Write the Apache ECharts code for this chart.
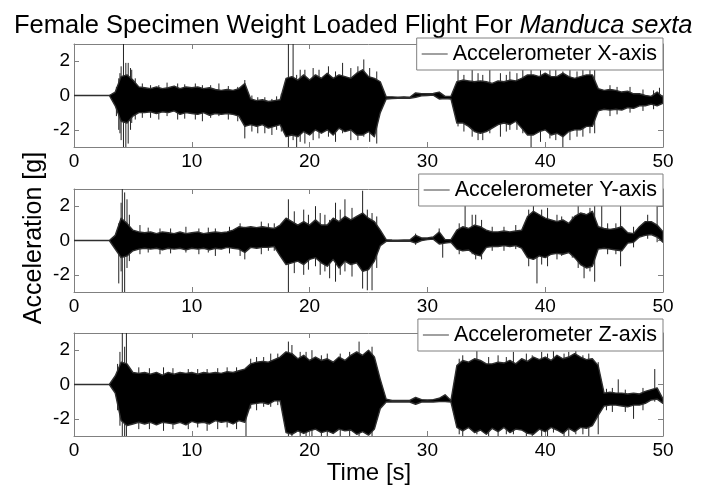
<!DOCTYPE html>
<html>
<head>
<meta charset="utf-8">
<script src="https://cdn.jsdelivr.net/npm/echarts@6/dist/echarts.min.js"></script>
<style>
html,body{margin:0;padding:0;background:#fff;}
#chart{width:710px;height:489px;}
</style>
</head>
<body>
<div id="chart"></div>
<script>
// Envelope sample step (seconds): values at t = 0, 0.5, 1.0, ... 50
const sampleStep = 0.5;
const xTicks = [0, 10, 20, 30, 40, 50];
const yTicks = [-2, 0, 2];
const seriesNames = ['Accelerometer X-axis', 'Accelerometer Y-axis', 'Accelerometer Z-axis'];

// ---- Accelerometer X-axis [g]: upper / lower envelope of the dense trace core (10 values per row = 5 s)
const xUpper = [
  0,0,0,0,0,0,0,0.2,1.1,1.2,
  0.9,0.5,0.45,0.4,0.5,0.4,0.45,0.55,0.4,0.5,
  0.45,0.5,0.4,0.45,0.35,0.3,0.35,0.3,0.4,0.7,
  -0.2,-0.3,-0.25,-0.35,-0.3,-0.25,1.0,1.1,0.9,1.2,
  0.9,1.2,1.0,1.3,1.0,1.2,1.1,1.0,1.3,1.5,
  1.1,1.0,0.8,-0.08,-0.08,-0.1,-0.08,-0.1,0.15,0.1,
  0.1,0.12,0.2,-0.05,-0.05,0.8,0.9,0.85,0.8,0.85,
  0.8,0.7,0.85,0.8,0.9,0.85,1.0,1.2,1.2,1.1,
  1.3,1.1,1.1,1.3,1.1,1.0,1.1,1.2,1.2,0.4,
  0.3,0.35,0.3,0.2,0.25,0.1,0.1,0.0,-0.05,0.2,
  -0.1
];
const xLower = [
  0,0,0,0,0,0,0,-0.6,-1.5,-1.6,
  -1.2,-1.0,-1.0,-0.95,-1.05,-0.95,-1.0,-0.9,-1.1,-1.0,
  -1.05,-1.1,-1.0,-1.15,-1.05,-1.1,-1.05,-1.1,-1.2,-1.8,
  -1.7,-1.8,-1.7,-1.9,-1.8,-1.7,-2.4,-2.3,-2.4,-2.1,
  -2.3,-2.0,-2.2,-2.0,-2.3,-1.9,-2.1,-2.0,-2.3,-2.3,
  -2.1,-2.4,-1.0,-0.2,-0.18,-0.16,-0.17,-0.16,-0.1,-0.02,
  0.0,0.02,-0.2,-0.18,-0.2,-1.6,-1.6,-1.8,-2.1,-2.2,
  -2.1,-1.9,-1.7,-1.6,-1.7,-1.5,-1.9,-2.3,-2.3,-2.1,
  -2.0,-2.3,-2.2,-2.4,-2.1,-2.0,-2.0,-1.8,-1.8,-0.9,
  -0.8,-0.85,-0.8,-0.85,-0.7,-0.75,-0.6,-0.6,-0.5,-0.6,
  -0.45
];
// spikes / whiskers of the X trace reaching past the core: [time s, low g, high g]
const xSpikes = [
  [3.6,-1.2,0.5],[3.8,-2.0,1.0],[3.9,-2.2,1.3],[4.0,-2.6,1.7],[4.2,-3.2,3.2],[4.4,-3.2,1.9],
  [4.6,-2.8,1.9],[4.8,-2.0,1.6],[4.9,-1.6,1.5],[5.2,-1.4,1.0],[5.8,-1.3,0.7],[6.5,-1.3,0.6],
  [7.2,-1.4,0.6],[7.9,-1.2,0.75],[8.8,-1.4,0.7],[9.4,-1.35,0.65],[10.3,-1.4,0.7],[10.9,-1.5,0.6],
  [11.6,-1.3,0.6],[12.3,-1.2,0.7],[13.1,-1.4,0.55],[13.9,-1.5,0.5],[14.5,-2.5,0.9],[15.1,-2.1,0.0],
  [15.6,-2.2,-0.1],[16.2,-2.2,-0.1],[16.8,-2.3,-0.2],[17.2,-2.0,-0.05],[17.6,-2.1,0.1],
  [18.2,-3.2,3.2],[18.6,-2.6,3.2],[18.9,-3.2,1.2],[19.2,-2.7,1.5],[19.6,-2.8,1.5],[20.3,-2.6,1.6],
  [20.8,-2.5,1.5],[21.6,-2.4,1.7],[22.2,-2.7,1.4],[22.8,-2.2,1.9],[23.5,-2.6,1.6],[24.1,-2.6,1.7],
  [24.6,-2.4,2.1],[25.1,-2.7,1.6],[25.7,-2.8,1.4],
  [32.6,-1.8,1.5],[33.1,-2.1,1.2],[33.8,-2.4,1.6],[34.3,-2.6,1.3],[34.7,-2.6,1.2],[35.3,-2.2,1.5],
  [36.2,-2.4,1.3],[36.7,-2.1,1.2],[37.0,-2.0,1.4],[37.6,-2.0,1.3],[38.1,-2.2,1.6],[38.8,-3.2,1.7],
  [39.6,-2.7,1.5],[40.4,-2.5,1.6],[40.9,-2.6,1.5],[41.5,-3.2,1.4],[42.1,-2.6,1.7],[42.7,-2.4,1.4],
  [43.2,-2.4,1.6],[43.8,-2.2,1.7],[44.2,-2.2,1.6],[45.5,-1.2,0.6],[46.1,-1.1,0.5],[47.2,-1.0,0.5],
  [48.3,-0.9,0.35],[49.2,-0.8,0.3],[49.7,-0.5,0.45]
];

// ---- Accelerometer Y-axis [g]
const yUpper = [
  0,0,0,0,0,0,0,0.3,1.3,1.0,
  0.6,0.5,0.45,0.5,0.4,0.5,0.45,0.4,0.5,0.4,
  0.45,0.5,0.4,0.45,0.5,0.45,0.5,0.6,0.8,0.75,
  0.8,0.75,0.8,0.75,0.7,0.9,1.3,1.1,0.9,1.1,
  0.9,1.2,0.9,0.9,1.3,1.1,1.4,1.2,1.4,1.6,
  1.3,1.1,0.6,0.05,0.03,0.02,0.03,0.03,0.3,0.15,
  0.15,0.2,0.5,0.05,0.05,0.6,0.8,0.7,0.9,0.8,
  0.6,0.5,0.5,0.55,0.5,0.55,0.6,1.4,1.7,1.5,
  1.3,1.2,1.1,1.2,1.0,1.4,1.6,1.5,1.7,0.8,
  0.7,0.65,0.7,0.8,0.45,0.4,0.8,1.1,1.1,0.9,
  0.5
];
const yLower = [
  0,0,0,0,0,0,0,-0.5,-1.0,-0.9,
  -0.6,-0.5,-0.45,-0.5,-0.45,-0.55,-0.45,-0.5,-0.45,-0.55,
  -0.45,-0.5,-0.45,-0.55,-0.45,-0.5,-0.4,-0.45,-0.5,-0.7,
  -0.4,-0.45,-0.4,-0.4,-0.35,-0.9,-1.4,-1.3,-1.2,-1.4,
  -1.1,-1.0,-1.3,-1.5,-1.1,-1.6,-1.2,-1.4,-1.3,-1.8,
  -1.7,-1.2,-0.3,-0.05,-0.05,-0.05,-0.04,-0.03,-0.15,0.0,
  0.05,0.08,-0.2,-0.15,-0.1,-0.5,-0.6,-0.55,-0.8,-0.9,
  -0.4,-0.35,-0.35,-0.3,-0.35,-0.3,-0.45,-1.0,-1.1,-0.9,
  -1.0,-0.8,-0.75,-0.8,-0.7,-1.0,-1.4,-1.6,-1.5,-0.5,
  -0.45,-0.5,-0.55,-0.6,-0.15,-0.1,0.2,0.3,0.35,0.2,
  -0.1
];
const ySpikes = [
  [3.8,-2.5,1.0],[4.0,-1.8,2.2],[4.1,-3.2,3.2],[4.3,-3.2,2.8],[4.5,-1.6,2.4],[4.7,-1.2,1.5],
  [5.6,-0.8,0.9],[6.3,-0.7,0.75],[7.3,-0.8,0.7],[8.2,-0.75,0.7],[9.5,-0.7,0.8],[10.6,-0.8,0.7],
  [11.4,-0.7,0.75],[12.0,-0.9,0.7],[13.2,-0.75,0.8],[14.1,-0.9,1.0],[14.5,-1.1,0.8],[15.9,-0.8,1.1],
  [16.5,-0.6,1.0],[17.0,-0.6,1.0],[18.2,-3.2,2.4],[18.7,-1.9,1.7],[19.5,-2.0,1.8],[19.9,-1.7,1.5],
  [20.5,-1.5,2.0],[20.9,-2.0,1.6],[21.3,-1.8,1.5],[21.7,-2.2,1.2],[22.2,-2.4,2.2],[22.6,-2.0,1.8],
  [23.0,-1.8,2.4],[23.6,-2.1,1.9],[24.5,-2.8,2.9],[24.9,-2.9,1.8],[25.3,-2.9,1.6],[25.7,-1.6,1.4],
  [29.0,-0.25,0.4],[31.0,0,0.7],[31.3,-1.0,0],[32.7,-0.8,1.0],[33.2,-0.5,2.2],[33.8,-0.8,1.5],
  [34.1,-1.1,1.5],[34.6,-1.1,1.2],[35.5,-0.6,0.8],[36.5,-0.6,0.8],[37.5,-0.5,0.9],[38.6,-1.5,1.8],
  [39.0,-1.0,2.2],[39.3,-2.5,0.5],[39.7,-1.4,1.8],[40.2,-1.5,1.9],[41.0,-1.1,1.5],[41.4,-0.9,1.4],
  [42.3,-1.0,1.4],[42.8,-1.6,2.0],[43.3,-2.2,1.6],[43.8,-1.8,1.9],[44.2,-2.4,2.2],[44.8,-0.5,2.2],
  [45.3,-0.8,1.0],[46.0,-0.8,1.0],[46.4,-1.5,2.2],[47.5,-0.4,0.8],[48.7,0.1,1.5],[49.5,-0.1,2.2]
];

// ---- Accelerometer Z-axis [g]
const zUpper = [
  0,0,0,0,0,0,0,0.5,1.3,1.2,
  0.7,0.65,0.7,0.6,0.7,0.55,0.7,0.6,0.7,0.65,
  0.7,0.6,0.7,0.65,0.7,0.65,0.75,0.7,0.8,0.9,
  1.2,1.3,1.35,1.3,1.45,1.6,1.9,1.8,1.5,1.7,
  1.4,1.6,1.4,1.5,1.3,1.6,1.4,1.7,1.9,1.7,
  2.0,1.6,0.3,-0.85,-0.93,-0.93,-0.93,-0.93,-0.75,-0.88,
  -0.9,-0.88,-0.8,-0.6,-0.93,1.1,1.4,1.3,1.5,1.4,
  1.2,1.2,1.3,1.25,1.4,1.2,1.5,1.35,1.6,1.45,
  1.6,1.4,1.7,1.5,1.6,1.8,1.6,1.45,1.5,1.1,
  -0.5,-0.45,-0.5,-0.5,-0.55,-0.5,-0.55,-0.4,-0.3,-0.2,
  -0.85
];
const zLower = [
  0,0,0,0,0,0,0,-0.5,-2.1,-2.4,
  -2.3,-2.2,-2.3,-2.2,-2.35,-2.2,-2.25,-2.3,-2.2,-2.35,
  -2.15,-2.25,-2.2,-2.3,-2.1,-2.2,-2.15,-2.3,-2.1,-2.2,
  -1.15,-1.1,-1.05,-1.15,-0.95,-0.95,-2.8,-2.9,-2.7,-2.85,
  -2.7,-2.6,-2.8,-2.7,-2.85,-2.6,-2.7,-2.65,-2.9,-2.75,
  -2.95,-2.6,-1.4,-1.02,-1.02,-1.02,-1.02,-1.02,-1.15,-1.02,
  -1.02,-1.02,-1.0,-1.0,-1.02,-2.5,-2.7,-2.5,-2.8,-2.65,
  -2.9,-2.55,-2.75,-2.5,-2.8,-2.6,-2.65,-2.85,-2.9,-2.6,
  -2.75,-2.5,-2.65,-2.85,-2.55,-2.75,-2.5,-2.55,-2.4,-1.8,
  -1.25,-1.2,-1.2,-1.25,-1.3,-1.2,-1.2,-1.1,-0.9,-0.85,
  -1.1
];
const zSpikes = [
  [3.7,-1.5,1.2],[3.9,-2.4,1.9],[4.1,-3.2,3.2],[4.3,-3.0,2.2],[4.45,-3.2,3.2],[5.5,-2.6,1.0],
  [6.4,-2.6,0.95],[7.6,-2.7,1.0],[8.4,-2.6,0.95],[9.7,-2.6,0.9],[10.5,-2.5,0.9],[11.3,-2.7,0.9],
  [12.2,-2.6,0.95],[13.0,-2.5,1.0],[13.8,-2.6,1.0],[14.6,-3.2,0.8],[15.0,-1.4,1.5],[15.5,-1.5,1.6],
  [16.1,-1.3,1.6],[16.7,-1.3,1.8],[17.3,-1.2,1.8],[18.2,-3.2,2.5],[18.5,-3.2,2.3],[19.2,-3.2,1.9],
  [19.7,-3.2,1.9],[20.2,-3.2,2.0],[21.0,-3.2,1.7],[21.5,-3.2,1.8],[22.6,-3.2,1.8],[23.4,-3.2,1.9],
  [24.2,-3.0,2.5],[25.3,-3.2,2.2],[32.7,-2.9,1.5],[33.0,-3.0,1.7],[34.2,-2.9,2.1],[35.2,-3.1,1.6],
  [36.0,-3.0,1.7],[36.7,-2.9,1.6],[37.3,-2.9,1.9],[38.4,-3.1,1.8],[38.9,-3.1,1.7],[39.7,-3.0,1.9],
  [40.2,-3.0,1.8],[40.7,-2.8,2.1],[41.6,-3.1,1.8],[42.0,-3.0,1.9],[42.6,-2.9,2.0],[43.2,-2.9,1.7],
  [43.7,-3.0,1.8],[44.5,-2.9,1.3],[45.2,-1.5,-0.25],[45.7,-1.6,-0.2],[46.2,-1.2,0.3],
  [46.8,-1.6,-0.3],[47.5,-2.0,-0.6],[48.3,-1.5,-0.2],[49.3,-1.0,0.9]
];

const uppers = [xUpper, yUpper, zUpper];
const lowers = [xLower, yLower, zLower];
const spikes = [xSpikes, ySpikes, zSpikes];

// one item per envelope sample: [t, hi, lo]
const envelopeData = (up, lo) => up.map((v, i) => [i * sampleStep, v, lo[i]]);

function clipRect(cs) { return { x: cs.x, y: cs.y, width: cs.width, height: cs.height }; }

// whole envelope drawn as one polygon (upper edge forward, lower edge back)
function renderBand(params, api) {
  if (params.dataIndexInside !== 0) return null;
  const n = params.dataInsideLength;
  const top = [], bottom = [];
  for (let i = 0; i < n; i++) {
    const t = api.value(0, i);
    top.push(api.coord([t, api.value(1, i)]));
    bottom.push(api.coord([t, api.value(2, i)]));
  }
  const pts = echarts.graphic.clipPointsByRect(top.concat(bottom.reverse()), clipRect(params.coordSys));
  return {
    type: 'polygon', shape: { points: pts },
    style: { fill: '#000', stroke: '#2e2e2e', lineWidth: 1.4, lineJoin: 'round' }
  };
}
function renderSpike(params, api) {
  const a = api.coord([api.value(0), api.value(1)]);
  const b = api.coord([api.value(0), api.value(2)]);
  const pts = echarts.graphic.clipPointsByRect([a, b], clipRect(params.coordSys));
  return { type: 'line', shape: { x1: pts[0][0], y1: pts[0][1], x2: pts[1][0], y2: pts[1][1] }, style: { stroke: '#222', lineWidth: 1 } };
}

const FONT = "'Liberation Sans', Arial, Helvetica, sans-serif";
const AX = '#808080';
const gridTops = [44, 189, 333];
const legendTops = [38, 174, 319];
const GRID_LEFT = 74, GRID_W = 589, GRID_H = 103;

const grids = [], xAxes = [], yAxes = [], series = [], legends = [];
gridTops.forEach((top, k) => {
  grids.push({ left: GRID_LEFT, top: top, width: GRID_W, height: GRID_H, containLabel: false });
  xAxes.push({
    type: 'value', gridIndex: k, min: xTicks[0], max: xTicks[xTicks.length - 1], interval: 10,
    position: 'bottom',
    axisLine: { show: true, onZero: false, lineStyle: { color: AX, width: 1 } },
    axisTick: { show: true, inside: true, length: 5, lineStyle: { color: AX } },
    axisLabel: { show: true, margin: 5, color: '#000', fontFamily: FONT, fontSize: 19 },
    splitLine: { show: false }
  });
  xAxes.push({
    type: 'value', gridIndex: k, min: xTicks[0], max: xTicks[xTicks.length - 1], interval: 10,
    position: 'top',
    axisLine: { show: true, onZero: false, lineStyle: { color: AX, width: 1 } },
    axisTick: { show: true, inside: true, length: 5, lineStyle: { color: AX } },
    axisLabel: { show: false },
    splitLine: { show: false }
  });
  yAxes.push({
    type: 'value', gridIndex: k, min: -3, max: 3, position: 'left',
    axisLine: { show: true, onZero: false, lineStyle: { color: AX, width: 1 } },
    axisTick: { show: true, inside: true, length: 5, customValues: yTicks, lineStyle: { color: AX } },
    axisLabel: { show: true, margin: 4, customValues: yTicks, color: '#000', fontFamily: FONT, fontSize: 19 },
    splitLine: { show: false }
  });
  yAxes.push({
    type: 'value', gridIndex: k, min: -3, max: 3, position: 'right',
    axisLine: { show: true, onZero: false, lineStyle: { color: AX, width: 1 } },
    axisTick: { show: true, inside: true, length: 5, customValues: yTicks, lineStyle: { color: AX } },
    axisLabel: { show: false },
    splitLine: { show: false }
  });
  series.push({
    name: seriesNames[k] + ' spikes', type: 'custom', xAxisIndex: 2 * k, yAxisIndex: 2 * k,
    data: spikes[k], renderItem: renderSpike,
    encode: { x: 0, y: [1, 2] },
    itemStyle: { color: '#000' }, clip: true, animation: false, silent: true, z: 2
  });
  series.push({
    name: seriesNames[k], type: 'custom', xAxisIndex: 2 * k, yAxisIndex: 2 * k,
    data: envelopeData(uppers[k], lowers[k]), renderItem: renderBand,
    encode: { x: 0, y: [1, 2] },
    itemStyle: { color: '#000' }, clip: true, animation: false, silent: true, z: 3
  });
  legends.push({
    data: [seriesNames[k]], right: 710 - 663, top: legendTops[k],
    orient: 'horizontal', padding: [5, 6, 5, 5], itemWidth: 26, itemHeight: 21,
    icon: 'path://M0,0H28V1H0Z',
    itemStyle: { color: '#333' },
    backgroundColor: '#fff', borderColor: AX, borderWidth: 1, borderRadius: 0,
    textStyle: { fontFamily: FONT, fontSize: 21.5, color: '#000' },
    selectedMode: false, z: 10
  });
});

const chart = echarts.init(document.getElementById('chart'), null, { renderer: 'canvas' });
chart.setOption({
  backgroundColor: '#fff',
  animation: false,
  title: {
    text: '{n|Female Specimen Weight Loaded Flight For }{i|Manduca sexta}',
    left: 9, top: 8,
    textStyle: {
      fontWeight: 'normal',
      rich: {
        n: { fontFamily: FONT, fontSize: 25.5, fontWeight: 'normal', color: '#000' },
        i: { fontFamily: FONT, fontSize: 25.5, fontWeight: 'normal', fontStyle: 'italic', color: '#000' }
      }
    }
  },
  legend: legends,
  grid: grids,
  xAxis: xAxes,
  yAxis: yAxes,
  series: series,
  graphic: [
    {
      type: 'text', x: 34, y: 238, rotation: Math.PI / 2,
      style: { text: 'Acceleration [g]', font: '25px ' + FONT, fill: '#000', align: 'center', verticalAlign: 'middle' }
    },
    {
      type: 'text', x: 369, y: 473,
      style: { text: 'Time [s]', font: '24px ' + FONT, fill: '#000', align: 'center', verticalAlign: 'middle' }
    }
  ]
});
</script>
</body>
</html>
